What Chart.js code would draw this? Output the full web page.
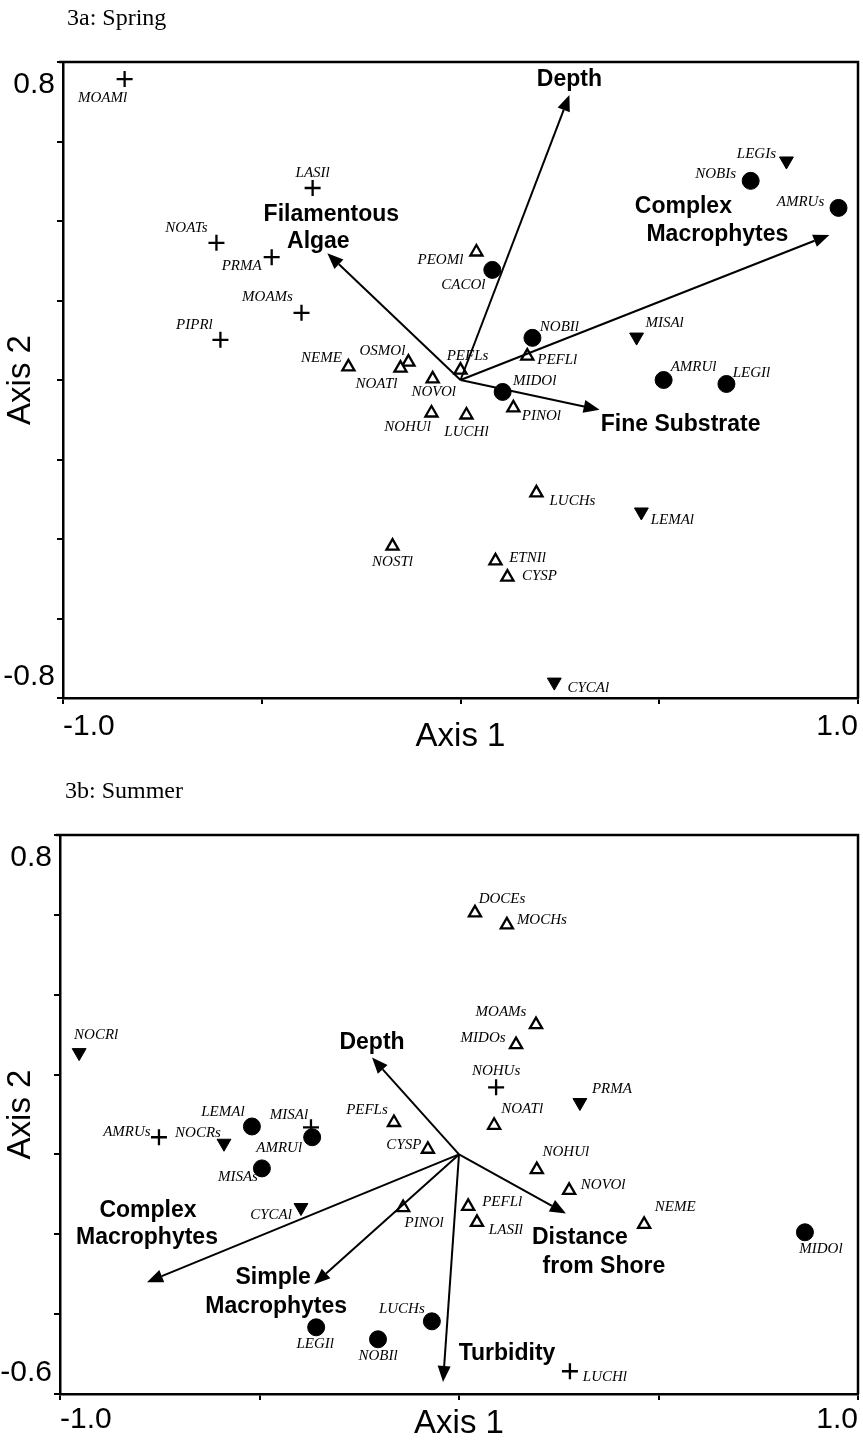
<!DOCTYPE html>
<html>
<head>
<meta charset="utf-8">
<script src="https://cdn.jsdelivr.net/npm/chart.js@4"></script>
<style>
  body { margin: 0; background: #fff; width: 863px; height: 1441px; position: relative; overflow: hidden; }
  canvas { position: absolute; left: 0; }
  .ttl { position: absolute; font: 24px "Liberation Serif", serif; line-height: 24px; color: #000; z-index: 2; }
</style>
</head>
<body>
<div class="ttl" style="left:67px; top:5px">3a: Spring</div>
<div class="ttl" style="left:65px; top:778px">3b: Summer</div>
<canvas id="spring" width="863" height="760" style="top:0"></canvas>
<canvas id="summer" width="863" height="681" style="top:760px"></canvas>
<script>
// ---- data: [species, axis 1, axis 2] ----
const springCross = [
  ['MOAMl', -0.845, 0.757],
  ['LASIl', -0.372, 0.483],
  ['NOATs', -0.614, 0.345],
  ['PRMA', -0.475, 0.309],
  ['MOAMs', -0.400, 0.169],
  ['PIPRl', -0.604, 0.101]
]
const springOpenTri = [
  ['NEME', -0.282, 0.033],
  ['OSMOl', -0.131, 0.045],
  ['NOATl', -0.151, 0.030],
  ['NOVOl', -0.070, 0.003],
  ['NOHUl', -0.073, -0.083],
  ['LUCHl', 0.015, -0.088],
  ['PEFLs', 0.0, 0.025],
  ['PEFLl', 0.168, 0.060],
  ['PINOl', 0.133, -0.070],
  ['PEOMl', 0.040, 0.322],
  ['LUCHs', 0.191, -0.284],
  ['NOSTl', -0.171, -0.418],
  ['ETNIl', 0.088, -0.455],
  ['CYSP', 0.118, -0.496]
]
const springCircle = [
  ['CACOl', 0.080, 0.277],
  ['NOBIl', 0.181, 0.106],
  ['MIDOl', 0.106, -0.030],
  ['AMRUl', 0.511, 0.0],
  ['LEGIl', 0.669, -0.010],
  ['NOBIs', 0.730, 0.501],
  ['AMRUs', 0.951, 0.433]
]
const springDownTri = [
  ['LEGIs', 0.820, 0.551],
  ['MISAl', 0.443, 0.108],
  ['LEMAl', 0.455, -0.332],
  ['CYCAl', 0.236, -0.760]
]
const springArrows = [
  ['Depth', 0.274, 0.717],
  ['Complex\nMacrophytes', 0.928, 0.365],
  ['Filamentous\nAlgae', -0.335, 0.319],
  ['Fine Substrate', 0.350, -0.075]
]

const summerOpenTri = [
  ['DOCEs', 0.040, 0.605],
  ['MOCHs', 0.120, 0.575],
  ['MOAMs', 0.193, 0.325],
  ['MIDOs', 0.143, 0.275],
  ['NOATl', 0.088, 0.073],
  ['NOHUl', 0.195, -0.038],
  ['NOVOl', 0.276, -0.090],
  ['PEFLl', 0.023, -0.130],
  ['LASIl', 0.045, -0.170],
  ['NEME', 0.464, -0.175],
  ['PEFLs', -0.163, 0.080],
  ['CYSP', -0.078, 0.013],
  ['PINOl', -0.140, -0.133]
]
const summerCircle = [
  ['LEMAl', -0.519, 0.070],
  ['AMRUl', -0.368, 0.043],
  ['MISAs', -0.494, -0.035],
  ['LEGIl', -0.358, -0.433],
  ['NOBIl', -0.203, -0.463],
  ['LUCHs', -0.068, -0.418],
  ['MIDOl', 0.867, -0.195]
]
const summerCross = [
  ['AMRUs', -0.752, 0.043],
  ['MISAl', -0.371, 0.068],
  ['NOHUs', 0.093, 0.168],
  ['LUCHl', 0.278, -0.543]
]
const summerDownTri = [
  ['NOCRl', -0.952, 0.255],
  ['NOCRs', -0.589, 0.028],
  ['CYCAl', -0.396, -0.133],
  ['PRMA', 0.303, 0.130]
]
const summerArrows = [
  ['Depth', -0.218, 0.243],
  ['Complex\nMacrophytes', -0.782, -0.320],
  ['Simple\nMacrophytes', -0.363, -0.325],
  ['Turbidity', -0.040, -0.570],
  ['Distance\nfrom Shore', 0.268, -0.148]
]

// tick labels
const xTickValues = [-1, 1]
const xTickLabels = ['-1.0', '1.0']
const springYTickValues = [0.8, -0.8]
const springYTickLabels = ['0.8', '-0.8']
const summerYTickValues = [0.8, -0.6]
const summerYTickLabels = ['0.8', '-0.6']

// ---- label placement (pixel offsets from the marker / arrow tip) ----
const springLabelPos = {
  MOAMl: [-22, 19], LASIl: [0, -15], NOATs: [-30, -15], PRMA: [-30, 9], MOAMs: [-34, -16], PIPRl: [-26, -15],
  NEME: [-27, -9], OSMOl: [-26, -11], NOATl: [-24, 16], NOVOl: [1, 13], NOHUl: [-24, 14], LUCHl: [0, 17],
  PEFLs: [7, -14], PEFLl: [30, 4], PINOl: [28, 8], PEOMl: [-36, 8], LUCHs: [36, 8], NOSTl: [0, 16],
  ETNIl: [32, -3], CYSP: [32, -1],
  CACOl: [-29, 15], NOBIl: [27, -11], MIDOl: [32, -11], AMRUl: [30, -13], LEGIl: [25, -11], NOBIs: [-35, -7], AMRUs: [-38, -6],
  LEGIs: [-30, -7], MISAl: [28, -14], LEMAl: [31, 8], CYCAl: [34, 6]
}
const summerLabelPos = {
  DOCEs: [27, -14], MOCHs: [35, -5], MOAMs: [-35, -13], MIDOs: [-33, -7], PEFLs: [-27, -12], NOATl: [28, -16],
  CYSP: [-24, -4], NOHUl: [29, -18], NOVOl: [34, -5], PINOl: [21, 16], PEFLl: [34, -4], LASIl: [29, 8], NEME: [31, -17],
  LEMAl: [-29, -14], AMRUl: [-33, 11], MISAs: [-24, 9], LEGIl: [-1, 17], NOBIl: [0, 17], LUCHs: [-30, -12], MIDOl: [16, 17],
  AMRUs: [-32, -5], MISAl: [-22, -12], NOHUs: [0, -16], LUCHl: [35, 6],
  NOCRl: [17, -18], NOCRs: [-26, -10], CYCAl: [-30, 8], PRMA: [32, -13]
}
const springArrowLabelPos = {
  'Depth': [[0, -15]],
  'Complex\nMacrophytes': [[-146, -28], [-112, 0]],
  'Filamentous\nAlgae': [[4, -39], [-9, -12]],
  'Fine Substrate': [[81, 15]]
}
const summerArrowLabelPos = {
  'Depth': [[0, -15]],
  'Complex\nMacrophytes': [[1, -72], [0, -45]],
  'Simple\nMacrophytes': [[-41, -7], [-38, 22]],
  'Turbidity': [[64, -28]],
  'Distance\nfrom Shore': [[14, 24], [38, 53]]
}

function toPts(arr) {
  return arr.map(p => ({x: p[1], y: p[2]}))
}
function names(arr) {
  return arr.map(p => p[0])
}

// arrows, point labels, y tick labels, top/right frame
const biplot = {
  id: 'biplot',
  afterDatasetsDraw(chart, args, opts) {
    const ctx = chart.ctx
    const xs = chart.scales.x, ys = chart.scales.y
    const area = chart.chartArea
    ctx.save()
    ctx.strokeStyle = '#000'
    ctx.fillStyle = '#000'

    ctx.lineWidth = 2.5
    ctx.beginPath()
    ctx.moveTo(area.left - 4, area.top)
    ctx.lineTo(area.right, area.top)
    ctx.lineTo(area.right, area.bottom)
    ctx.stroke()

    const ox = xs.getPixelForValue(0), oy = ys.getPixelForValue(0)
    ctx.textAlign = 'center'
    ctx.textBaseline = 'middle'
    opts.arrows.forEach(a => {
      const tx = xs.getPixelForValue(a[1]), ty = ys.getPixelForValue(a[2])
      const ang = Math.atan2(ty - oy, tx - ox)
      const hl = 16, hw = 6.5
      const bx = tx - hl * Math.cos(ang), by = ty - hl * Math.sin(ang)
      ctx.lineWidth = 2
      ctx.beginPath()
      ctx.moveTo(ox, oy)
      ctx.lineTo(bx, by)
      ctx.stroke()
      ctx.beginPath()
      ctx.moveTo(tx, ty)
      ctx.lineTo(bx - hw * Math.sin(ang), by + hw * Math.cos(ang))
      ctx.lineTo(bx + hw * Math.sin(ang), by - hw * Math.cos(ang))
      ctx.closePath()
      ctx.fill()

      ctx.font = 'bold 23px "Liberation Sans", Arial, sans-serif'
      a[0].split('\n').forEach((line, i) => {
        const o = opts.arrowLabelPos[a[0]][i]
        ctx.fillText(line, tx + o[0], ty + o[1])
      })
    })

    ctx.font = 'italic 15px "Liberation Serif", serif'
    chart.data.datasets.forEach((ds, i) => {
      chart.getDatasetMeta(i).data.forEach((pt, j) => {
        const nm = ds.names[j]
        const o = opts.labelPos[nm] || [0, -15]
        ctx.fillText(nm, pt.x + o[0], pt.y + o[1])
      })
    })

    ctx.font = '30px "Liberation Sans", Arial, sans-serif'
    ctx.textAlign = 'right'
    opts.yTickValues.forEach((v, i) => {
      let py = ys.getPixelForValue(v)
      if (v === ys.max) py += 23
      else if (v === ys.min) py -= 21
      ctx.fillText(opts.yTickLabels[i], area.left - 8, py)
    })
    ctx.restore()
  }
}

function makeChart(id, sets, arrows, labelPos, arrowLabelPos, yMin, yVals, yLabs, pad, yW, xH, xTickPad, xTitlePad) {
  const markers = [
    {style: 'cross', r: 8, bg: '#000', bw: 2.3, rot: 0},
    {style: 'triangle', r: 7, bg: '#fff', bw: 2.3, rot: 0},
    {style: 'circle', r: 8.5, bg: '#000', bw: 1, rot: 0},
    {style: 'triangle', r: 8, bg: '#000', bw: 1, rot: 180}
  ]
  const datasets = sets.map((s, k) => ({
    data: toPts(s),
    names: names(s),
    pointStyle: markers[k].style,
    pointRadius: markers[k].r,
    pointRotation: markers[k].rot,
    pointBackgroundColor: markers[k].bg,
    pointBorderColor: '#000',
    pointBorderWidth: markers[k].bw,
    showLine: false
  }))

  return new Chart(document.getElementById(id), {
    type: 'scatter',
    data: {datasets: datasets},
    options: {
      responsive: false,
      animation: false,
      devicePixelRatio: 1,
      layout: {padding: pad, autoPadding: false},
      plugins: {
        legend: {display: false},
        tooltip: {enabled: false},
        biplot: {arrows: arrows, labelPos: labelPos, arrowLabelPos: arrowLabelPos, yTickValues: yVals, yTickLabels: yLabs}
      },
      scales: {
        x: {
          type: 'linear',
          min: -1, max: 1,
          afterFit: (s) => { s.height = xH; s.paddingLeft = 0; s.paddingRight = 0 },
          border: {display: true, color: '#000', width: 2.5},
          grid: {drawOnChartArea: false, drawTicks: true, tickLength: 6, color: '#000', lineWidth: 2},
          ticks: {
            stepSize: 0.5, autoSkip: false, maxRotation: 0, align: 'inner', padding: xTickPad, color: '#000',
            font: {family: '"Liberation Sans", Arial, sans-serif', size: 30, lineHeight: 1},
            callback: (v) => { const i = xTickValues.indexOf(v); return i < 0 ? '' : xTickLabels[i] }
          },
          title: {display: true, text: 'Axis 1', color: '#000', padding: {top: 0, bottom: xTitlePad},
            font: {family: '"Liberation Sans", Arial, sans-serif', size: 33, lineHeight: 1}}
        },
        y: {
          type: 'linear',
          min: yMin, max: 0.8,
          afterFit: (s) => { s.width = yW; s.paddingTop = 0; s.paddingBottom = 0 },
          border: {display: true, color: '#000', width: 2.5},
          grid: {drawOnChartArea: false, drawTicks: true, tickLength: 6, color: '#000', lineWidth: 2},
          ticks: {stepSize: 0.2, autoSkip: false, callback: () => ''},
          title: {display: true, text: 'Axis 2', color: '#000', padding: {top: 4, bottom: 0},
            font: {family: '"Liberation Sans", Arial, sans-serif', size: 33, lineHeight: 1}}
        }
      }
    },
    plugins: [biplot]
  })
}

makeChart('spring',
  [springCross, springOpenTri, springCircle, springDownTri],
  springArrows, springLabelPos, springArrowLabelPos,
  -0.8, springYTickValues, springYTickLabels,
  {left: 0, top: 62, right: 5, bottom: 0}, 63, 62, 8, 7)

makeChart('summer',
  [summerCross, summerOpenTri, summerCircle, summerDownTri],
  summerArrows, summerLabelPos, summerArrowLabelPos,
  -0.6, summerYTickValues, summerYTickLabels,
  {left: 0, top: 75, right: 5, bottom: 0}, 60, 47, 5, 1)
</script>
</body>
</html>
